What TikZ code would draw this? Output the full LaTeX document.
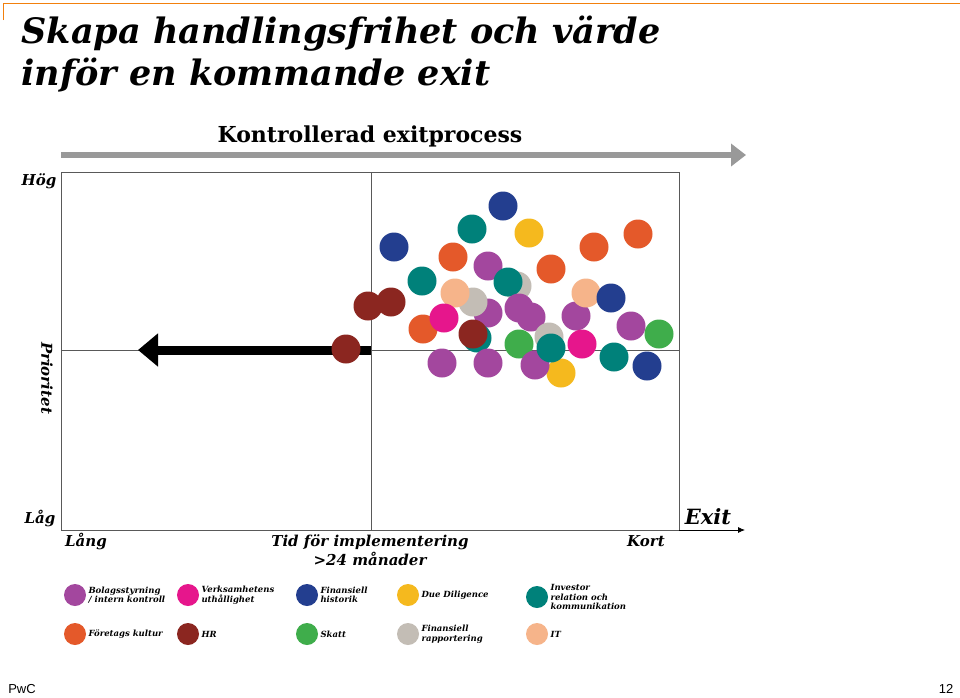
\documentclass[tikz,border=0pt]{standalone}
\usepackage{fontspec}
\setmainfont{DejaVu Serif}
\setsansfont{Liberation Sans}
\usetikzlibrary{arrows.meta}
\definecolor{cpu}{HTML}{A3479E}\definecolor{cmg}{HTML}{E6168C}
\definecolor{cdb}{HTML}{233E8F}\definecolor{cye}{HTML}{F5B91E}
\definecolor{cte}{HTML}{00817A}\definecolor{cor}{HTML}{E4592A}
\definecolor{cma}{HTML}{8B2620}\definecolor{cgr}{HTML}{3FAD4B}
\definecolor{cgy}{HTML}{C3BDB5}\definecolor{cpe}{HTML}{F6B48A}
\begin{document}
\begin{tikzpicture}[x=1pt,y=-1pt,
  dot/.style={circle,fill=#1,minimum size=29pt,inner sep=0pt},
  ldot/.style={circle,fill=#1,minimum size=22pt,inner sep=0pt},
  lab/.style={font=\bfseries\itshape\fontsize{15}{19}\selectfont},
  leg/.style={font=\bfseries\itshape\fontsize{8.5}{9.5}\selectfont,align=left,anchor=west}]
\useasboundingbox[fill=white] (0,0) rectangle (960,697);
\draw[orange!80!brown,line width=0.8pt] (3,20) -- (3,3) -- (960,3);
\node[anchor=north west,align=left,font=\bfseries\itshape\fontsize{35}{42}\selectfont] (title) at (18,12) {Skapa handlingsfrihet och värde\\inför en kommande exit};
\node[font=\bfseries\fontsize{22}{24}\selectfont] (kep) at (370,136) {Kontrollerad exitprocess};
\coordinate (ga) at (61,155); \coordinate (gb) at (746,155);
\draw[gray!80,line width=6pt,-{Triangle[length=15pt,width=22pt]}] (ga) -- (gb);
\draw[line width=0.7pt,gray!70!black] (61,172) rectangle (679,530);
\coordinate (vt) at (371,172); \coordinate (vb) at (371,530);
\coordinate (hl) at (61,350); \coordinate (hr) at (679,350);
\draw[gray!70!black,line width=0.7pt] (vt) -- (vb) (hl) -- (hr);
\coordinate (xa) at (679,530); \coordinate (xb) at (745,530);
\draw[line width=0.8pt,-{Latex[length=7pt,width=6pt]}] (xa) -- (xb);
\coordinate (ba) at (371,350); \coordinate (bb) at (138,350);
\draw[line width=9pt,-{Triangle[length=20pt,width=32pt]}] (ba) -- (bb);
\node[lab] (hog) at (39,181) {Hög};
\node[lab] (lag) at (40,518) {Låg};
\node[lab,rotate=-90] (prio) at (47,378) {Prioritet};
\node[lab] (lang) at (86,541) {Lång};
\node[lab,align=center] (tid) at (370,550) {Tid för implementering\\>24 månader};
\node[lab] (kort) at (646,541) {Kort};
\node[font=\bfseries\itshape\fontsize{21}{24}\selectfont] (exit) at (708,517) {Exit};
% dots
\foreach \c/\x/\y in {cdb/503/206, cte/472/229, cye/529/233, cor/638/234, cdb/394/247, cor/594/247,
 cor/453/257, cpu/488/266, cor/551/269, cte/422/281, cgy/517/286, cte/508/282, cpu/488/313, cgy/473/302, cpe/455/293,
 cpu/519/308, cpu/531/317, cpu/576/316, cpe/586/293, cdb/611/298, cpu/631/326, cgr/659/334,
 cma/368/306, cma/391/302, cor/423/329, cmg/444/318, cte/477/338, cma/473/334,
 cgr/519/344, cgy/549/337, cye/561/373, cpu/535/365, cte/551/348, cmg/582/344, cte/614/357, cdb/647/366,
 cpu/442/363, cpu/488/363, cma/346/349}
  \node[dot=\c] at (\x,\y) {};
% legend
\foreach \c/\x/\y/\t in {cpu/75/595/{Bolagsstyrning\\/ intern kontroll}, cmg/188/595/{Verksamhetens\\uthållighet},
 cdb/307/595/{Finansiell\\historik}, cye/408/595/{Due Diligence}, cte/537/597/{Investor\\relation och\\kommunikation},
 cor/75/634/{Företags kultur}, cma/188/634/{HR}, cgr/307/634/{Skatt}, cgy/408/634/{Finansiell\\rapportering}, cpe/537/634/{IT}}
  {\node[ldot=\c] (l\x\y) at (\x,\y) {}; \node[leg] at (\x+10,\y) {\t};}
\node[font=\sffamily\fontsize{13}{14}\selectfont] (pwc) at (22,689) {PwC};
\node[font=\sffamily\fontsize{13}{14}\selectfont] (pg) at (946,689) {12};
\end{tikzpicture}
\end{document}
